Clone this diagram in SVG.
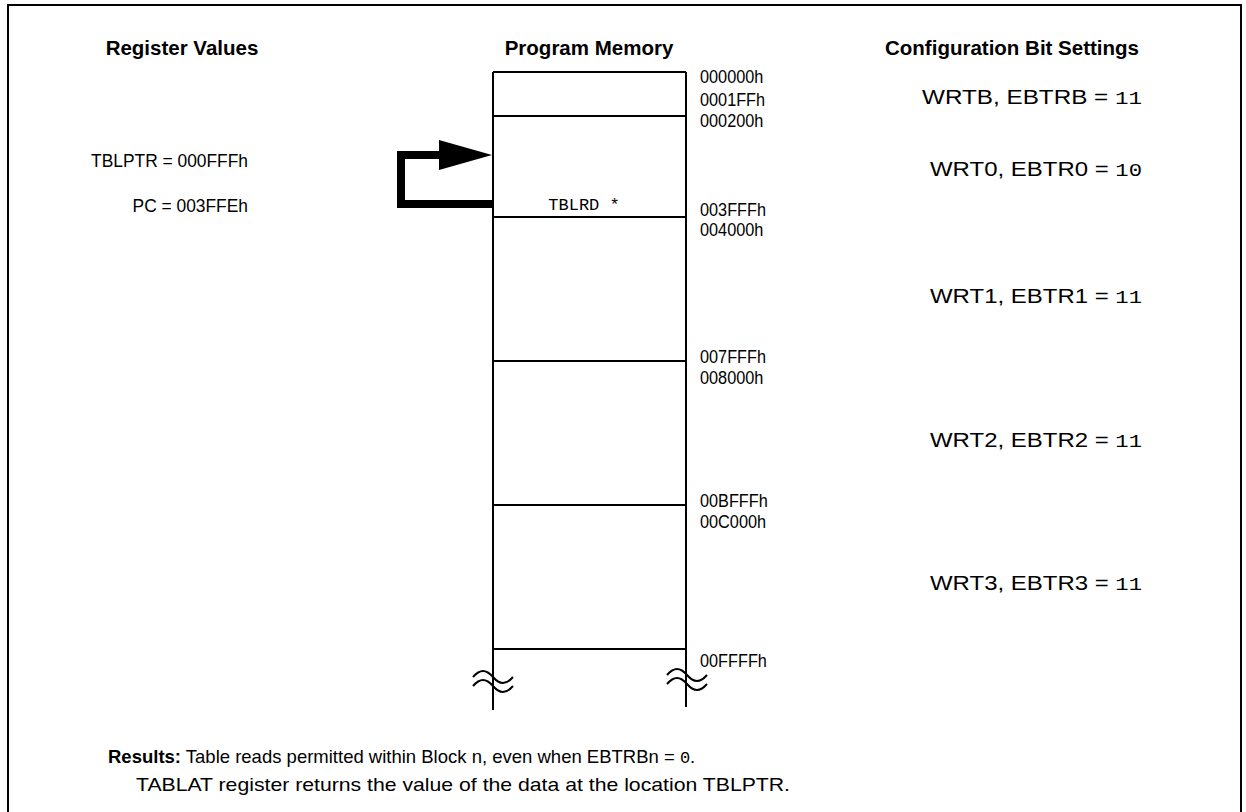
<svg xmlns="http://www.w3.org/2000/svg" width="1246" height="812" viewBox="0 0 1246 812">
<style>
.t{font-family:"Liberation Sans",Arial,sans-serif;font-size:18.5px;fill:#000}
.c{font-family:"Liberation Sans",Arial,sans-serif;font-size:20.5px;fill:#000}
.b{font-family:"Liberation Sans",Arial,sans-serif;font-size:20.5px;font-weight:bold;fill:#000}
.m{font-family:"Liberation Mono","Courier New",monospace;fill:#000}
.ln{stroke:#000;stroke-width:2;fill:none}
</style>
<rect width="1246" height="812" fill="#fff"/>
<g id="frame">
<path class="ln" d="M8,812 V5 H1241 V812" stroke-width="2.5"/>
</g>
<g id="headers">
<text class="b" x="182" y="55" text-anchor="middle">Register Values</text>
<text class="b" x="589" y="55" text-anchor="middle" font-size="21">Program Memory</text>
<text class="b" x="1012" y="55" text-anchor="middle" font-size="22">Configuration Bit Settings</text>
</g>
<g id="registers" transform="translate(248 0) scale(0.94 1)">
<text class="t" x="0" y="167" text-anchor="end">TBLPTR = 000FFFh</text>
<text class="t" x="0" y="212" text-anchor="end">PC = 003FFEh</text>
</g>
<g id="memory">
<path class="ln" d="M493,72 H686 M493,72 V710 M686,72 V707 M493,116 H686 M493,217 H686 M493,361 H686 M493,505 H686 M493,649 H686"/>
<path class="ln" stroke-width="1.5" d="M473,677 c7,-8 13,-8 20,0 s13,8 20,0 M473,686 c7,-8 13,-8 20,0 s13,8 20,0 M667,675 c7,-8 13,-8 20,0 s13,8 20,0 M667,684 c7,-8 13,-8 20,0 s13,8 20,0"/>
<text class="m" x="584" y="210" text-anchor="middle" font-size="17">TBLRD *</text>
</g>
<g id="addresses" transform="translate(700 0) scale(0.88 1)">
<text class="t" x="0" y="83">000000h</text>
<text class="t" x="0" y="106">0001FFh</text>
<text class="t" x="0" y="127">000200h</text>
<text class="t" x="0" y="216">003FFFh</text>
<text class="t" x="0" y="236">004000h</text>
<text class="t" x="0" y="363">007FFFh</text>
<text class="t" x="0" y="384">008000h</text>
<text class="t" x="0" y="507">00BFFFh</text>
<text class="t" x="0" y="528">00C000h</text>
<text class="t" x="0" y="667">00FFFFh</text>
</g>
<g id="config">
<text class="c" x="922" y="104" textLength="220" lengthAdjust="spacingAndGlyphs">WRTB, EBTRB = <tspan class="m" font-size="19">11</tspan></text>
<text class="c" x="930" y="176" textLength="212" lengthAdjust="spacingAndGlyphs">WRT0, EBTR0 = <tspan class="m" font-size="19">10</tspan></text>
<text class="c" x="930" y="303" textLength="212" lengthAdjust="spacingAndGlyphs">WRT1, EBTR1 = <tspan class="m" font-size="19">11</tspan></text>
<text class="c" x="930" y="447" textLength="212" lengthAdjust="spacingAndGlyphs">WRT2, EBTR2 = <tspan class="m" font-size="19">11</tspan></text>
<text class="c" x="930" y="590" textLength="212" lengthAdjust="spacingAndGlyphs">WRT3, EBTR3 = <tspan class="m" font-size="19">11</tspan></text>
</g>
<g id="connectors">
<path d="M492,204 H401 V155 H442" stroke="#000" stroke-width="8" fill="none"/>
<polygon points="439,140 492,155 439,170" fill="#000"/>
</g>
<g id="results">
<text class="t" x="108" y="763" font-size="17.5"><tspan font-weight="bold">Results:</tspan> Table reads permitted within Block n, even when EBTRBn = <tspan class="m" font-size="17">0</tspan>.</text>
<text class="t" x="136" y="791" font-size="19" textLength="654" lengthAdjust="spacingAndGlyphs">TABLAT register returns the value of the data at the location TBLPTR.</text>
</g>
</svg>
